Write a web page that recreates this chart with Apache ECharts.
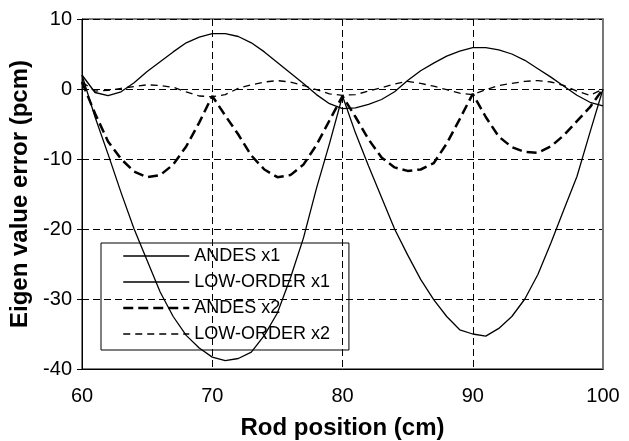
<!DOCTYPE html>
<html>
<head>
<meta charset="utf-8">
<script src="https://cdn.jsdelivr.net/npm/echarts@6/dist/echarts.min.js"></script>
<style>
  html, body { margin: 0; padding: 0; background: #fff; }
  #eigenChart { width: 629px; height: 441px; }
</style>
</head>
<body>
<div id="eigenChart"></div>
<script>
// rod positions (cm), shared by all curves
const rodPos = [60, 61, 62, 63, 64, 65, 66, 67, 68, 69, 70, 71, 72, 73, 74, 75, 76, 77, 78, 79, 80,
                81, 82, 83, 84, 85, 86, 87, 88, 89, 90, 91, 92, 93, 94, 95, 96, 97, 98, 99, 100];

// eigen value error (pcm)
const andesX1 = [2.0, -4.0, -9.3, -14.8, -20.0, -24.5, -29.0, -32.5, -35.2, -37.0, -38.3, -38.8, -38.5, -37.6, -35.2, -32.0, -27.0, -21.3, -14.2, -7.8, -1.0,
                 -6.3, -11.0, -15.5, -20.0, -23.7, -27.2, -30.1, -32.5, -34.4, -35.0, -35.3, -34.2, -32.5, -30.0, -26.5, -22.0, -17.2, -12.5, -6.2, 0];
const lowOrderX1 = [2.0, -0.5, -0.95, -0.4, 0.9, 2.5, 3.9, 5.3, 6.6, 7.4, 7.9, 7.9, 7.5, 6.6, 5.3, 3.8, 2.3, 0.8, -0.8, -2.1, -2.8,
                    -2.7, -2.2, -1.5, -0.4, 1.2, 2.6, 3.7, 4.7, 5.4, 5.9, 5.9, 5.6, 5.0, 4.1, 2.9, 1.7, 0.4, -0.9, -1.9, -2.4];
const andesX2 = [1.0, -3.5, -7.5, -10.0, -11.8, -12.6, -12.3, -10.8, -8.2, -4.8, -1.0, -3.8, -6.5, -9.5, -11.5, -12.6, -12.3, -10.8, -8.0, -4.5, -1.0,
                 -4.0, -7.2, -9.8, -11.2, -11.7, -11.5, -10.6, -7.8, -4.3, -0.7, -4.0, -6.8, -8.3, -9.0, -9.1, -8.2, -6.6, -4.6, -2.6, 0];
const lowOrderX2 = [1.0, -0.3, -0.2, 0.1, 0.35, 0.6, 0.5, 0.25, -0.4, -1.0, -1.1, -0.8, 0.1, 0.6, 1.0, 1.2, 1.0, 0.5, -0.1, -0.7, -0.9,
                    -0.8, -0.3, 0.2, 0.7, 1.1, 0.8, 0.4, -0.1, -0.6, -0.8, -0.1, 0.5, 0.8, 1.1, 1.2, 1.0, 0.5, -0.3, -0.9, 0];

const seriesNames = ['ANDES x1', 'LOW-ORDER x1', 'ANDES x2', 'LOW-ORDER x2'];

const font = "'Liberation Sans', Arial, sans-serif";

// line look of each curve (also used for its legend sample)
const thinSolid = { color: '#000', width: 1.3, type: 'solid' };
const thickDash = { color: '#000', width: 2.5, type: [10, 5] };
const thinDash = { color: '#000', width: 1.3, type: [7, 5] };
const styles = [thinSolid, thinSolid, thickDash, thinDash];

function pairs(vals) {
    return rodPos.map(function (x, i) { return [x, vals[i]]; });
}

let eigenChart = echarts.init(document.getElementById('eigenChart'));

const option = {
    animation: false,
    backgroundColor: '#fff',
    grid: {
        left: 82,
        right: 26,
        top: 19,
        bottom: 72,
        outerBoundsMode: 'none',
        show: true,
        borderColor: '#000',
        borderWidth: 1
    },
    legend: {
        orient: 'vertical',
        left: 101,
        top: 243,
        padding: [3, 19, 6, 21],
        itemWidth: 66,
        itemHeight: 14,
        itemGap: 6,
        borderColor: '#000',
        borderWidth: 1,
        backgroundColor: 'transparent',
        // hide the marker circle, keep only the line sample
        itemStyle: { color: 'transparent', borderWidth: 0, opacity: 0 },
        textStyle: { fontFamily: font, fontSize: 18, color: '#000', lineHeight: 20 },
        data: seriesNames.map(function (n, i) {
            return { name: n, lineStyle: styles[i] };
        })
    },
    xAxis: {
        type: 'value',
        min: 60,
        max: 100,
        interval: 10,
        name: 'Rod position (cm)',
        nameLocation: 'middle',
        nameGap: 47,
        nameTextStyle: { fontFamily: font, fontSize: 24, fontWeight: 'bold', color: '#000' },
        axisLine: { onZero: false, lineStyle: { color: '#000', width: 1 } },
        axisTick: { show: false },
        axisLabel: { fontFamily: font, fontSize: 20, color: '#000', margin: 17 },
        splitLine: { show: true, lineStyle: { color: '#000', width: 1, type: [7, 4] } }
    },
    yAxis: [
        {
            type: 'value',
            min: -40,
            max: 10,
            interval: 10,
            name: 'Eigen value error (pcm)',
            nameLocation: 'middle',
            nameGap: 50,
            nameRotate: 90,
            nameTextStyle: { fontFamily: font, fontSize: 24, fontWeight: 'bold', color: '#000' },
            axisLine: { show: true, onZero: false, lineStyle: { color: '#000', width: 1 } },
            axisTick: { show: true, inside: false, length: 5, lineStyle: { color: '#000' } },
            axisLabel: { fontFamily: font, fontSize: 20, color: '#000', margin: 10 },
            splitLine: { show: true, lineStyle: { color: '#000', width: 1, type: [7, 4] } }
        },
        {
            type: 'value',
            min: -40,
            max: 10,
            position: 'right',
            axisLine: { show: true, onZero: false, lineStyle: { color: '#777', width: 2 } },
            axisTick: { show: false },
            axisLabel: { show: false },
            splitLine: { show: false }
        }
    ],
    series: [andesX1, lowOrderX1, andesX2, lowOrderX2].map(function (vals, i) {
        return {
            name: seriesNames[i],
            type: 'line',
            data: pairs(vals),
            symbol: 'none',
            lineStyle: styles[i],
            itemStyle: { color: '#000' }
        };
    })
};

eigenChart.setOption(option);
</script>
</body>
</html>
